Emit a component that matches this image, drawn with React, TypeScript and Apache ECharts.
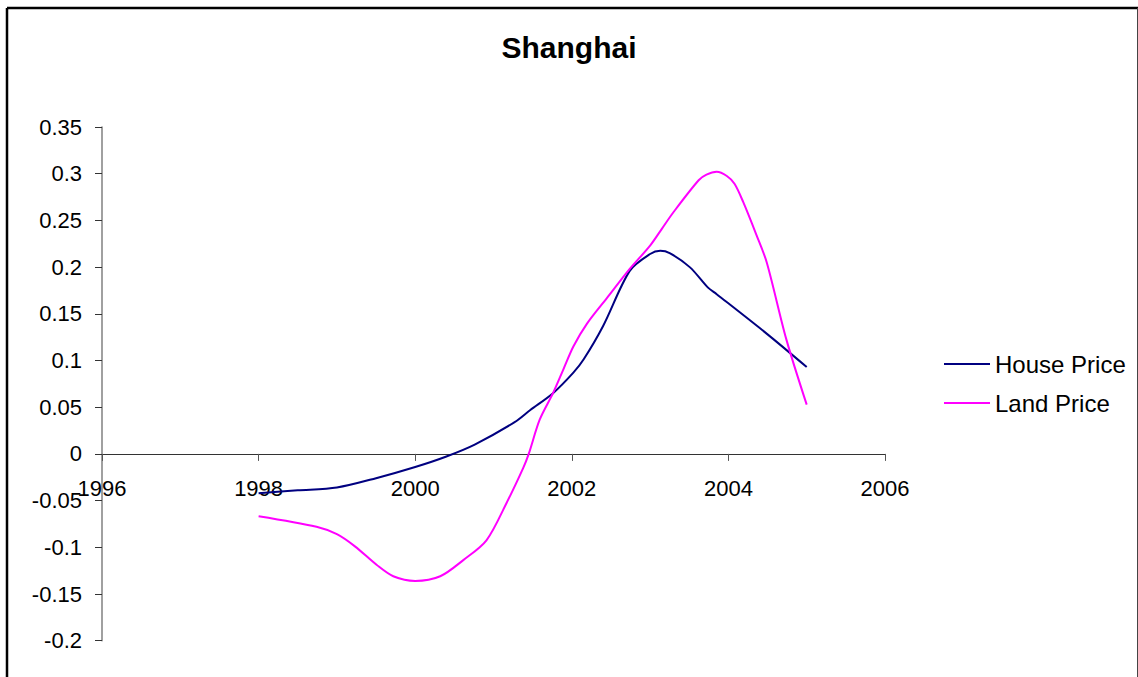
import React, { useEffect, useRef } from "react";
import * as echarts from "echarts";

const chartTitle = "Shanghai";
const seriesNames = ["House Price", "Land Price"];

const houseYears = [1998.0, 1998.5, 1999.0, 1999.5, 2000.0, 2000.39, 2000.76, 2001.27, 2001.47, 2001.76, 2002.02, 2002.15, 2002.4, 2002.74, 2003.0, 2003.13, 2003.25, 2003.51, 2003.74, 2003.85, 2004.5, 2005.0];
const houseValues = [-0.042, -0.039, -0.036, -0.026, -0.014, -0.003, 0.01, 0.034, 0.047, 0.065, 0.087, 0.101, 0.137, 0.196, 0.214, 0.2175, 0.215, 0.1997, 0.178, 0.171, 0.128, 0.093];

const landYears = [1998.0, 1998.74, 1999.0, 1999.23, 1999.51, 1999.72, 2000.0, 2000.32, 2000.61, 2000.91, 2001.17, 2001.38, 2001.45, 2001.59, 2001.76, 2001.89, 2002.02, 2002.19, 2002.45, 2002.74, 2003.0, 2003.15, 2003.3, 2003.62, 2003.72, 2003.85, 2003.98, 2004.08, 2004.19, 2004.36, 2004.49, 2004.74, 2005.0];
const landValues = [-0.0667, -0.078, -0.086, -0.099, -0.119, -0.131, -0.136, -0.131, -0.114, -0.0925, -0.052, -0.015, 0.0, 0.0366, 0.065, 0.09, 0.115, 0.139, 0.167, 0.198, 0.223, 0.241, 0.259, 0.293, 0.299, 0.302, 0.2975, 0.289, 0.2695, 0.234, 0.205, 0.1226, 0.0527];

const xMin = 1996;
const xMax = 2006;
const xStep = 2;
const yMin = -0.2;
const yMax = 0.35;
const yStep = 0.05;

const FONT = "'Liberation Sans', Arial, sans-serif";

// grid geometry (page pixels)
const GRID_TOP = 127;
const GRID_BOTTOM_Y = 640.7;
const PAGE_H = 677;

export default function App() {
  const ref = useRef<HTMLDivElement>(null);

  useEffect(() => {
    document.body.style.margin = "0";
    document.body.style.overflow = "hidden";
    const chart = echarts.init(ref.current!, null, { renderer: "svg" });
    const pair = (xs: number[], ys: number[]) => xs.map((x, i) => [x, ys[i]]);
    // pixel distance from grid bottom to y = 0
    const zeroOffset = ((0 - yMin) / (yMax - yMin)) * (GRID_BOTTOM_Y - GRID_TOP);
    chart.setOption({
      animation: false,
      backgroundColor: "#ffffff",
      title: {
        text: chartTitle,
        left: "center",
        top: 27,
        textStyle: { fontFamily: FONT, fontSize: 30, fontWeight: "bold", color: "#000" },
      },
      legend: {
        orient: "vertical",
        left: 939,
        top: 347,
        icon: "rect",
        itemWidth: 46,
        itemHeight: 2,
        itemGap: 15,
        textStyle: { fontFamily: FONT, fontSize: 24, color: "#000", lineHeight: 24 },
        data: seriesNames,
      },
      grid: {
        left: 102,
        right: 253,
        top: GRID_TOP,
        bottom: PAGE_H - GRID_BOTTOM_Y,
        outerBoundsMode: "none",
        containLabel: false,
      },
      xAxis: {
        type: "value",
        position: "bottom",
        offset: -zeroOffset,
        min: xMin,
        max: xMax,
        interval: xStep,
        axisLine: { onZero: false, lineStyle: { color: "#333", width: 1 } },
        axisTick: { show: true, length: 7, lineStyle: { color: "#555" } },
        axisLabel: {
          margin: 24,
          fontFamily: FONT,
          fontSize: 22,
          color: "#000",
          formatter: (v: number) => String(v),
        },
        splitLine: { show: false },
      },
      yAxis: {
        type: "value",
        min: yMin,
        max: yMax,
        interval: yStep,
        axisLine: { show: true, onZero: false, lineStyle: { color: "#808080", width: 1.5 } },
        axisTick: { show: true, length: 7, lineStyle: { color: "#333" } },
        axisLabel: { margin: 20, fontFamily: FONT, fontSize: 22, color: "#000" },
        splitLine: { show: false },
      },
      series: [
        {
          name: seriesNames[0],
          type: "line",
          data: pair(houseYears, houseValues),
          symbol: "none",
          smooth: 0.3,
          lineStyle: { color: "#000080", width: 2 },
          itemStyle: { color: "#000080" },
        },
        {
          name: seriesNames[1],
          type: "line",
          data: pair(landYears, landValues),
          symbol: "none",
          smooth: 0.3,
          lineStyle: { color: "#ff00ff", width: 2 },
          itemStyle: { color: "#ff00ff" },
        },
      ],
      graphic: [
        { type: "line", shape: { x1: 7, y1: 8, x2: 1138, y2: 8 }, style: { stroke: "#000", lineWidth: 2.5 } },
        { type: "line", shape: { x1: 7, y1: 8, x2: 7, y2: 677 }, style: { stroke: "#000", lineWidth: 2.5 } },
        { type: "line", shape: { x1: 1137.5, y1: 8, x2: 1137.5, y2: 677 }, style: { stroke: "#444", lineWidth: 1 } },
      ],
    });
    return () => chart.dispose();
  }, []);

  return <div ref={ref} style={{ width: 1138, height: 677 }} />;
}
